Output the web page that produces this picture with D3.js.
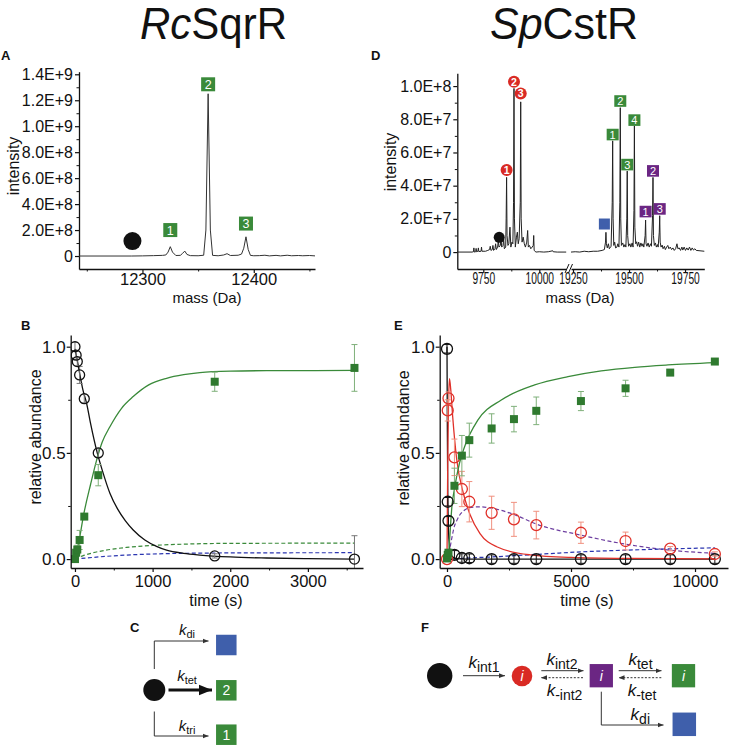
<!DOCTYPE html>
<html><head><meta charset="utf-8">
<script src="https://cdn.jsdelivr.net/npm/d3@7"></script>
<style>
body{margin:0;background:#fff;}
svg{display:block;}
</style></head><body>
<script>
// ================= DATA =================
// Panel A: RcSqrR spectrum [mass (Da), intensity in units of 1e8]
const specA = [[12243,0],[12290,0],[12300,0.01],[12310,0.03],[12318,0.05],[12321,0.08],[12323,0.3],[12325,0.72],[12327,0.3],[12330,0.04],[12334,0.05],[12336,0.2],[12338,0.38],[12340,0.12],[12343,0.03],[12350,0.02],[12355,0.06],[12357,2],[12359,12.5],[12361,2],[12363,0.05],[12368,0.02],[12373,0.08],[12376,0.18],[12379,0.04],[12386,0.06],[12389,0.15],[12391,0.6],[12393,1.48],[12395,0.5],[12397,0.05],[12400,0.02],[12405,0.03],[12410,0.06],[12414,0.01],[12420,0.05],[12424,0.01],[12430,0.06],[12434,0.02],[12440,0.04],[12444,0.02],[12450,0.04],[12455,0.01]];
const aYTicks = [0,2e8,4e8,6e8,8e8,1e9,1.2e9,1.4e9];
const aYLabels = ["0","2.0E+8","4.0E+8","6.0E+8","8.0E+8","1.0E+9","1.2E+9","1.4E+9"];
const aYMinor = [1e8,3e8,5e8,7e8,9e8,1.1e9,1.3e9];
const aXTicks = [12300,12400];
const aXMinor = [12250,12350,12450];
const aLabels = [["1",12325,2.0e8],["2",12359,1.323e9],["3",12393,2.5e8]];
const aApo = [12291,1.15e8];

// Panel D: SpCstR spectrum [mass (Da), intensity in units of 1e7]
const specDLeft = [[9634,0],[9700,0],[9706,0.02],[9708,0.25],[9710,0],[9716,0.02],[9718,0.22],[9720,0.02],[9726,0.05],[9728,0.25],[9730,0.03],[9740,0.05],[9742,0.3],[9744,0.05],[9760,0.05],[9770,0.1],[9778,0.15],[9781,0.35],[9784,0.1],[9790,0.15],[9793,0.4],[9796,0.1],[9802,0.2],[9805,0.5],[9808,0.15],[9814,0.3],[9817,0.7],[9820,0.3],[9826,0.4],[9829,0.9],[9832,0.3],[9838,0.4],[9841,0.8],[9844,0.2],[9850,0.3],[9852,2],[9854,4.5],[9856,1],[9860,0.4],[9864,0.5],[9869,1.5],[9873,0.3],[9878,0.6],[9882,0.5],[9885,3],[9887,9.86],[9889,2],[9893,0.3],[9898,0.9],[9902,1.2],[9906,0.5],[9910,0.8],[9915,3],[9917,9.05],[9919,2],[9923,0.6],[9928,0.9],[9933,0.5],[9938,0.3],[9944,0.6],[9948,1.3],[9951,0.3],[9956,0.4],[9962,0.2],[9968,0.3],[9973,0.4],[9975,1.0],[9977,0.1],[9985,0],[10000,0.02],[10020,0],[10040,0.02],[10060,0.08],[10062,0.02],[10080,0],[10120,0]];
const specDRight = [[19241,0],[19260,0.02],[19280,0],[19300,0.05],[19320,0.02],[19340,0.05],[19360,0.05],[19380,0.1],[19390,0.15],[19395,0.6],[19397,1.19],[19399,0.5],[19403,0.25],[19408,0.5],[19412,0.2],[19420,0.35],[19425,3],[19427,6.7],[19429,2],[19432,0.4],[19436,0.6],[19440,0.25],[19446,0.3],[19450,0.5],[19455,0.3],[19459,3],[19461,8.7],[19463,2],[19466,0.4],[19472,0.55],[19477,0.3],[19482,0.45],[19486,0.3],[19490,2],[19492,4.88],[19494,1],[19498,0.35],[19504,0.5],[19508,0.3],[19514,0.55],[19518,0.3],[19522,2.5],[19524,7.6],[19526,1.5],[19530,0.5],[19534,0.62],[19538,0.35],[19543,0.6],[19548,0.3],[19553,0.55],[19558,0.35],[19562,0.5],[19566,0.3],[19572,1],[19574,1.93],[19576,0.5],[19580,0.35],[19585,0.55],[19590,0.3],[19596,0.5],[19600,0.35],[19605,2.2],[19607,4.5],[19609,1],[19613,0.4],[19618,0.55],[19622,0.3],[19627,0.45],[19630,0.3],[19635,1.2],[19637,2.19],[19639,0.6],[19643,0.3],[19648,0.42],[19652,0.2],[19658,0.35],[19662,0.15],[19668,0.3],[19673,0.4],[19678,0.2],[19684,0.3],[19690,0.15],[19696,0.25],[19702,0.1],[19708,0.2],[19714,0.5],[19718,0.2],[19724,0.25],[19730,0.1],[19736,0.3],[19740,0.12],[19746,0.3],[19752,0.1],[19758,0.25],[19764,0.12],[19770,0.3],[19776,0.1],[19782,0.25],[19788,0.12],[19794,0.2],[19800,0.1],[19836,0.05]];
const dYTicks = [0,2e7,4e7,6e7,8e7,1e8];
const dYLabels = ["0","2.0E+7","4.0E+7","6.0E+7","8.0E+7","1.0E+8"];
const dYMinor = [1e7,3e7,5e7,7e7,9e7];
const dXTicksLeft = [9750,10000];
const dXMinorLeft = [9875];
const dXTicksRight = [19250,19500,19750];
const dXMinorRight = [19375,19625];
const dRedLabels = [["1",9854,4.94e7],["2",9887,10.26e7],["3",9917,9.56e7]];
const dGreenLabels = [["1",19427,7.08e7],["2",19461,9.1e7],["3",19492,5.27e7],["4",19524,7.95e7]];
const dPurpleLabels = [["1",19574,2.44e7],["2",19607,4.89e7],["3",19637,2.6e7]];
const dApo = [9821,0.89e7];
const dDimer = [19390,1.69e7];

// Panel B: RcSqrR kinetics
const bTime = [0,15,30,60,120,300,1800,3600];
const bApo = [1.0,0.96,0.93,0.867,0.755,0.50,0.015,0.0];
const bApoErr = [0.02,0.02,0.02,0.04,0.02,0.02,0.01,0.11];
const bTet = [0.0,0.03,0.045,0.09,0.20,0.395,0.835,0.90];
const bTetErr = [0.01,0.01,0.02,0.045,0.01,0.05,0.045,0.11];
const bFitApo = [[0,0.99],[30,0.935],[64,0.867],[100,0.8],[150,0.733],[200,0.64],[287,0.50],[350,0.42],[450,0.31],[550,0.235],[650,0.18],[750,0.137],[900,0.09],[1050,0.06],[1180,0.042],[1400,0.027],[1609,0.019],[2000,0.01],[2467,0.005],[3000,0.002],[3600,0.0]];
const bFitTet = [[0,0],[30,0.05],[60,0.1],[107,0.2],[200,0.35],[279,0.466],[350,0.55],[450,0.623],[600,0.71],[750,0.765],[950,0.82],[1180,0.851],[1400,0.868],[1609,0.878],[2000,0.885],[2467,0.887],[3600,0.888]];
const bFitTri = [[0,0],[100,0.015],[236,0.03],[400,0.042],[664,0.055],[1000,0.064],[1385,0.07],[2000,0.074],[3600,0.075]];
const bFitDi = [[0,0],[236,0.008],[664,0.019],[1000,0.024],[1385,0.027],[2000,0.029],[3600,0.03]];

// Panel E: SpCstR kinetics
const eTime = [0,30,60,300,600,900,1800,2700,3600,5400,7200,9000,10800];
const eApo = [0.99,0.27,0.18,0.02,0.005,0.004,0,0,0,0,0,0,0];
const eApoErr = [0.02,0.02,0.02,0.02,0.02,0.02,0.02,0.02,0.02,0.02,0.02,0.02,0.02];
const eInt = [0.0,0.70,0.757,0.479,0.33,0.27,0.218,0.187,0.16,0.124,0.085,0.049,0.024];
const eIntErr = [0,0.05,0.03,0.086,0.083,0.095,0.078,0.08,0.065,0.05,0.042,0.01,0.01];
const eTet = [0.003,0.02,0.03,0.345,0.487,0.56,0.615,0.659,0.698,0.744,0.804,0.878,0.93];
const eTetErr = [0.01,0.01,0.01,0.083,0.095,0.08,0.069,0.06,0.065,0.045,0.038,0.01,0.01];
const eFitApo = [[0,1.0],[15,0.6],[30,0.33],[60,0.14],[100,0.06],[150,0.025],[250,0.008],[400,0.002],[800,0],[10800,0]];
const eFitInt = [[0,0],[30,0.45],[60,0.72],[100,0.85],[150,0.8],[230,0.67],[391,0.47],[659,0.31],[927,0.21],[1331,0.12],[2003,0.058],[3347,0.02],[5000,0.008],[7500,0.003],[10800,0.001]];
const eFitTet = [[0,0],[60,0.02],[110,0.1],[200,0.25],[300,0.33],[500,0.45],[713,0.53],[1250,0.655],[2190,0.749],[3535,0.82],[4880,0.859],[6220,0.886],[7570,0.903],[8910,0.914],[10800,0.925]];
const eFitInt2 = [[0,0],[100,0.04],[180,0.09],[300,0.155],[391,0.18],[500,0.205],[659,0.226],[900,0.242],[1300,0.246],[1787,0.24],[2700,0.21],[3600,0.165],[5390,0.113],[7165,0.071],[8980,0.042],[10800,0.027]];
const eFitDi = [[0,0],[600,0.003],[1000,0.006],[1800,0.01],[2700,0.016],[3600,0.022],[5400,0.034],[7200,0.042],[9000,0.048],[10800,0.053]];

// ================= DRAWING =================
const FONT = '"Liberation Sans", Arial, Helvetica, sans-serif';
const C = {ink:"#111", green:"#3a8a3a", greenMk:"#2f7a2f", greenErr:"#7fb07a", red:"#e0312a", redErr:"#f0907f",
  purple:"#6d3fa0", purpleBox:"#6b2683", blueDash:"#2a35b0", blueSq:"#3f5fab", redBox:"#d92a24"};
const svg = d3.select("body").append("svg").attr("width",736).attr("height",747).attr("font-family",FONT);
const defs = svg.append("defs");
function marker(id, w, color){
  defs.append("marker").attr("id",id).attr("viewBox","0 0 10 10").attr("refX",10).attr("refY",5)
    .attr("markerWidth",w).attr("markerHeight",w).attr("markerUnits","userSpaceOnUse").attr("orient","auto")
    .append("path").attr("d","M0,1L10,5L0,9Z").attr("fill",color);
}
marker("arr",6,"#333"); marker("arrBig",13,"#111");

function styleAxis(g, fs){
  g.select("path.domain").attr("stroke",C.ink).attr("stroke-width",1.3);
  g.selectAll(".tick line").attr("stroke",C.ink).attr("stroke-width",1.2);
  g.selectAll("text").attr("font-size",fs).attr("fill",C.ink).attr("font-family",FONT);
  return g;
}
function minor(g){ g.select("path.domain").remove(); g.selectAll(".tick line").attr("stroke",C.ink).attr("stroke-width",1); }
function txt(x,y,s,fs,opt={}){
  const t = svg.append("text").attr("x",x).attr("y",y).attr("font-size",fs).attr("fill",opt.fill||C.ink)
    .attr("text-anchor",opt.anchor||"middle").attr("font-weight",opt.weight||null).text(s);
  if(opt.rot) t.attr("transform",`rotate(${opt.rot},${x},${y})`);
  return t;
}
function panelLabel(x,y,s){ txt(x,y,s,13,{anchor:"start",weight:"bold"}); }

// Titles
function scaledTitle(x,y,parts,size,width){
  const t = svg.append("text").attr("font-size",size).attr("fill",C.ink).attr("transform",`translate(${x},${y})`);
  parts.forEach(p=>t.append("tspan").attr("font-style",p[1]?"italic":"normal").text(p[0]));
  const w = t.node().getBBox().width;
  t.attr("transform",`translate(${x},${y}) scale(${width/w},1)`);
}
scaledTitle(140,39,[["Rc",true],["SqrR",false]],44,147);
scaledTitle(490,39,[["Sp",true],["CstR",false]],44,148);

// ---------- Panel A ----------
panelLabel(1,60,"A");
const ax = d3.scaleLinear().domain([12243,12455]).range([79,315]);
const ay = d3.scaleLinear().domain([-1e8,1.42e9]).range([269,71.7]);
styleAxis(svg.append("g").attr("transform","translate(79,0)")
  .call(d3.axisLeft(ay).tickValues(aYTicks).tickFormat((d,i)=>aYLabels[i]).tickSize(4).tickPadding(2).tickSizeOuter(0)),16);
minor(svg.append("g").attr("transform","translate(79,0)").call(d3.axisLeft(ay).tickValues(aYMinor).tickFormat("").tickSize(2.5)));
styleAxis(svg.append("g").attr("transform","translate(0,269)")
  .call(d3.axisBottom(ax).tickValues(aXTicks).tickFormat(d3.format("d")).tickSize(4).tickPadding(0).tickSizeOuter(0)),16.5);
minor(svg.append("g").attr("transform","translate(0,269)").call(d3.axisBottom(ax).tickValues(aXMinor).tickFormat("").tickSize(2.5)));
svg.append("path").attr("d",d3.line().x(d=>ax(d[0])).y(d=>ay(d[1]*1e8))(specA))
  .attr("fill","none").attr("stroke","#333").attr("stroke-width",1);
svg.append("circle").attr("cx",ax(aApo[0])).attr("cy",ay(aApo[1])).attr("r",9).attr("fill",C.ink);
aLabels.forEach(l=>{
  const cx=ax(l[1]), cy=ay(l[2]);
  svg.append("rect").attr("x",cx-7).attr("y",cy-7).attr("width",14).attr("height",14).attr("fill",C.green);
  txt(cx,cy+4.5,l[0],12.5,{fill:"#fff"});
});
txt(13,166,"intensity",16,{rot:-90}).attr("dy","0.35em");
txt(207,303,"mass (Da)",15);

// ---------- Panel D ----------
panelLabel(371,60,"D");
const dy = d3.scaleLinear().domain([-1.02e7,1.077e8]).range([269,73.3]);
const dxL = d3.scaleLinear().domain([9634,10120]).range([457.3,566.2]);
const dxR = d3.scaleLinear().domain([19241,19836]).range([571,704.3]);
styleAxis(svg.append("g").attr("transform","translate(457.3,0)")
  .call(d3.axisLeft(dy).tickValues(dYTicks).tickFormat((d,i)=>dYLabels[i]).tickSize(4).tickPadding(2).tickSizeOuter(0)),16);
minor(svg.append("g").attr("transform","translate(457.3,0)").call(d3.axisLeft(dy).tickValues(dYMinor).tickFormat("").tickSize(2.5)));
[[dxL,dXTicksLeft,dXMinorLeft],[dxR,dXTicksRight,dXMinorRight]].forEach(([sc,tk,mn])=>{
  const g = styleAxis(svg.append("g").attr("transform","translate(0,269)")
    .call(d3.axisBottom(sc).tickValues(tk).tickFormat(d3.format("d")).tickSize(4).tickPadding(0).tickSizeOuter(0)),16);
  g.selectAll("text").attr("transform","scale(0.64,1)");
  minor(svg.append("g").attr("transform","translate(0,269)").call(d3.axisBottom(sc).tickValues(mn).tickFormat("").tickSize(2.5)));
});
// axis break marks
svg.append("path").attr("d","M565,273L569,264M568.5,273L572.5,264").attr("stroke",C.ink).attr("stroke-width",1);
const specLine = sc => d3.line().x(d=>sc(d[0])).y(d=>dy(d[1]*1e7));
svg.append("path").attr("d",specLine(dxL)(specDLeft)).attr("fill","none").attr("stroke","#222").attr("stroke-width",1);
svg.append("path").attr("d",specLine(dxR)(specDRight)).attr("fill","none").attr("stroke","#222").attr("stroke-width",1);
svg.append("circle").attr("cx",dxL(dApo[0])).attr("cy",dy(dApo[1])).attr("r",5.5).attr("fill",C.ink);
svg.append("rect").attr("x",dxR(dDimer[0])-5.5).attr("y",dy(dDimer[1])-5.5).attr("width",11).attr("height",11).attr("fill",C.blueSq);
dRedLabels.forEach(l=>{
  const cx=dxL(l[1]), cy=dy(l[2]);
  svg.append("circle").attr("cx",cx).attr("cy",cy).attr("r",6).attr("fill",C.redBox);
  txt(cx,cy+3.8,l[0],10.5,{fill:"#fff",weight:"bold"});
});
[[dGreenLabels,C.green],[dPurpleLabels,C.purpleBox]].forEach(([arr,col])=>arr.forEach(l=>{
  const cx=dxR(l[1]), cy=dy(l[2]);
  svg.append("rect").attr("x",cx-6).attr("y",cy-5.8).attr("width",12).attr("height",11.6).attr("fill",col);
  txt(cx,cy+4,l[0],11,{fill:"#fff"});
}));
txt(390,162,"intensity",16,{rot:-90}).attr("dy","0.35em");
txt(580,303,"mass (Da)",15);

// ---------- Kinetics panels ----------
function kinPanel(o){
  const x = d3.scaleLinear().domain(o.xDom).range(o.xRange);
  const y = d3.scaleLinear().domain([-0.042,1.055]).range([568,335]);
  defs.append("clipPath").attr("id",o.id).append("rect").attr("x",o.xRange[0]).attr("y",325)
    .attr("width",o.xRange[1]-o.xRange[0]+6).attr("height",568-325);
  const plot = svg.append("g").attr("clip-path",`url(#${o.id})`);
  const line = d3.line().x(d=>x(d[0])).y(d=>y(d[1])).curve(d3.curveMonotoneX);
  o.curves.forEach(c=>plot.append("path").attr("d",line(c.data)).attr("fill","none")
    .attr("stroke",c.color).attr("stroke-width",c.w||1.3).attr("stroke-dasharray",c.dash||null));
  o.series.forEach(s=>{
    s.values.forEach((v,i)=>{
      const e=s.err[i]; if(!e) return;
      const xx=x(o.time[i]), y1=y(v-e), y2=y(v+e);
      plot.append("line").attr("x1",xx).attr("x2",xx).attr("y1",y1).attr("y2",y2).attr("stroke",s.errColor).attr("stroke-width",1);
      [y1,y2].forEach(yy=>plot.append("line").attr("x1",xx-3).attr("x2",xx+3).attr("y1",yy).attr("y2",yy).attr("stroke",s.errColor).attr("stroke-width",1));
    });
  });
  o.series.forEach(s=>{
    s.values.forEach((v,i)=>{
      const xx=x(o.time[i]), yy=y(v);
      if(s.shape==="square") plot.append("rect").attr("x",xx-4).attr("y",yy-4).attr("width",8).attr("height",8).attr("fill",s.color);
      else plot.append("circle").attr("cx",xx).attr("cy",yy).attr("r",s.r||5).attr("fill","none").attr("stroke",s.color).attr("stroke-width",1.3);
    });
  });
  styleAxis(svg.append("g").attr("transform",`translate(${o.xRange[0]},0)`)
    .call(d3.axisLeft(y).tickValues([0,0.5,1]).tickFormat(d3.format(".1f")).tickSize(4).tickPadding(1).tickSizeOuter(0)),17);
  minor(svg.append("g").attr("transform",`translate(${o.xRange[0]},0)`).call(d3.axisLeft(y).tickValues([0.25,0.75]).tickFormat("").tickSize(2.5)));
  styleAxis(svg.append("g").attr("transform","translate(0,568)")
    .call(d3.axisBottom(x).tickValues(o.xTicks).tickFormat(d3.format("d")).tickSize(4).tickPadding(3).tickSizeOuter(0)),16.5);
  minor(svg.append("g").attr("transform","translate(0,568)").call(d3.axisBottom(x).tickValues(o.xMinor).tickFormat("").tickSize(2.5)));
}

panelLabel(21,330,"B");
kinPanel({id:"clipB", xDom:[-55,3710], xRange:[70.7,363], time:bTime, xTicks:[0,1000,2000,3000], xMinor:[500,1500,2500,3500],
  curves:[{data:bFitTri,color:C.green,dash:"4,2.5",w:1.2},{data:bFitDi,color:C.blueDash,dash:"4,2.5",w:1.2},
          {data:bFitApo,color:C.ink},{data:bFitTet,color:C.green}],
  series:[{values:bApo,err:bApoErr,color:C.ink,errColor:"#777",shape:"circle"},
          {values:bTet,err:bTetErr,color:C.greenMk,errColor:C.greenErr,shape:"square"}]});
txt(35,437,"relative abundance",16,{rot:-90}).attr("dy","0.35em");
txt(216,606,"time (s)",16);

panelLabel(394,330,"E");
kinPanel({id:"clipE", xDom:[-294,11330], xRange:[439.7,728], time:eTime, xTicks:[0,5000,10000], xMinor:[2500,7500],
  curves:[{data:eFitInt2,color:C.purple,dash:"4,2.5",w:1.2},{data:eFitDi,color:C.blueDash,dash:"4,2.5",w:1.2},
          {data:eFitApo,color:C.ink},{data:eFitInt,color:C.red},{data:eFitTet,color:C.green}],
  series:[{values:eApo,err:eApoErr,color:C.ink,errColor:C.ink,shape:"circle",r:5.5},
          {values:eInt,err:eIntErr,color:C.red,errColor:C.redErr,shape:"circle",r:5.5},
          {values:eTet,err:eTetErr,color:C.greenMk,errColor:C.greenErr,shape:"square"}]});
txt(403,438,"relative abundance",16,{rot:-90}).attr("dy","0.35em");
txt(587,606,"time (s)",16);

// ---------- Scheme helpers ----------
function kLabel(x,y,sub,kSize,subSize){
  const t = svg.append("text").attr("x",x).attr("y",y).attr("text-anchor","middle").attr("fill",C.ink);
  t.append("tspan").attr("font-style","italic").attr("font-size",kSize).text("k");
  t.append("tspan").attr("font-size",subSize).attr("dy",subSize*0.3).text(sub);
}
function arrow(d,dash,w,mk){
  svg.append("path").attr("d",d).attr("fill","none").attr("stroke",mk==="arrBig"?"#111":"#333")
    .attr("stroke-width",w||1).attr("stroke-dasharray",dash||null).attr("marker-end",`url(#${mk||"arr"})`);
}
function box(cx,cy,s,col,label,fs,ital){
  svg.append("rect").attr("x",cx-s/2).attr("y",cy-s/2).attr("width",s).attr("height",s).attr("fill",col);
  if(label) txt(cx,cy+fs*0.36,label,fs,{fill:"#fff"}).attr("font-style",ital?"italic":null);
}

// ---------- Panel C ----------
panelLabel(130,632,"C");
svg.append("circle").attr("cx",154.3).attr("cy",690).attr("r",11).attr("fill",C.ink);
arrow("M154.3,669V641H208.5");
arrow("M168.5,690H212",null,3,"arrBig");
arrow("M154.3,711.5V736H208.5");
kLabel(187,635,"di",15,11);
kLabel(187,681,"tet",15,11);
kLabel(187,731,"tri",15,11);
box(226.3,645,20.5,C.blueSq);
box(226.3,690.3,20.5,C.green,"2",14);
box(226.3,734.7,20.5,C.green,"1",14);

// ---------- Panel F ----------
panelLabel(421,632,"F");
svg.append("circle").attr("cx",439.7).attr("cy",675.7).attr("r",12.7).attr("fill",C.ink);
arrow("M463,675.7H505");
kLabel(484,668,"int1",17,14);
svg.append("circle").attr("cx",522).attr("cy",676).attr("r",10.3).attr("fill",C.redBox);
txt(522,681,"i",14,{fill:"#fff"}).attr("font-style","italic");
arrow("M541.3,670.7H583.5");
arrow("M583,677.7H541",("2,1.6"));
kLabel(562,665,"int2",17,14);
kLabel(564.5,695.5,"-int2",17,14);
box(601.3,675.7,23.3,C.purpleBox,"i",14,true);
arrow("M618.7,670.7H661.5");
arrow("M661.3,677.7H618.5","2,1.6");
kLabel(640.5,665,"tet",17,14);
kLabel(642,695.5,"-tet",17,14);
box(683.5,675.7,23.3,C.green,"i",14,true);
arrow("M601.3,691.7V725H663.5");
kLabel(640.3,720,"di",17,14);
box(684.3,724.3,23.5,C.blueSq);
</script></body></html>
